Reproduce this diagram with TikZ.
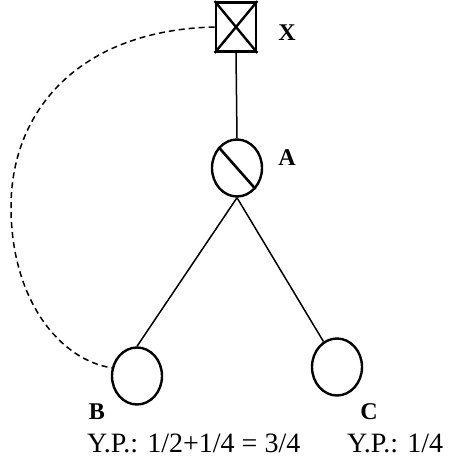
\documentclass[tikz,border=0pt]{standalone}
\usepackage{fontspec}
\setmainfont{Liberation Serif}
\usetikzlibrary{shapes.geometric}
\begin{document}
\begin{tikzpicture}[x=1pt, y=-1pt,
  every node/.style={font=\fontsize{28}{32}\selectfont},
  lbl/.style={font=\fontsize{24}{28}\selectfont\bfseries},
  xbox/.style={draw, line width=2.8pt, minimum width=40pt, minimum height=49pt, inner sep=0pt},
  ring/.style={draw, ellipse, line width=2.4pt, minimum width=50pt, minimum height=57pt, inner sep=0pt}]
\useasboundingbox (0,0) rectangle (450,463);

% gates
\node[xbox] (X) at (236,27) {};
\draw[line width=2.4pt] (X.north west) -- (X.south east) (X.north east) -- (X.south west);
\node[ring] (A) at (237,168) {};
\draw[line width=2.6pt] (A.north west) -- (A.south east);

% individuals
\node[ring] (B) at (137,376) {};
\node[ring] (C) at (337,367) {};

% labels
\node[lbl] (Xl) at (287,33) {X};
\node[lbl] (Al) at (287,158) {A};
\node[lbl] (Bl) at (97,412) {B};
\node[lbl] (Cl) at (369,412) {C};
\node[anchor=west, inner sep=0pt] (Bp) at (87,443) {Y.P.: 1/2+1/4 = 3/4};
\node[anchor=west, inner sep=0pt] (Cp) at (347,443) {Y.P.: 1/4};

% lines
\draw[line width=1.5pt] (X.south) -- (A.north);
\draw[line width=1.5pt] (A.south) -- (B.north);
\draw[line width=1.5pt] (A.south) -- (C.118);
\draw[line width=1.5pt, dash pattern=on 6pt off 4pt]
  (X.west) .. controls (80,30) and (11,110) .. (11,207)
  .. controls (11,300) and (60,360) .. (B.162);
\end{tikzpicture}
\end{document}
